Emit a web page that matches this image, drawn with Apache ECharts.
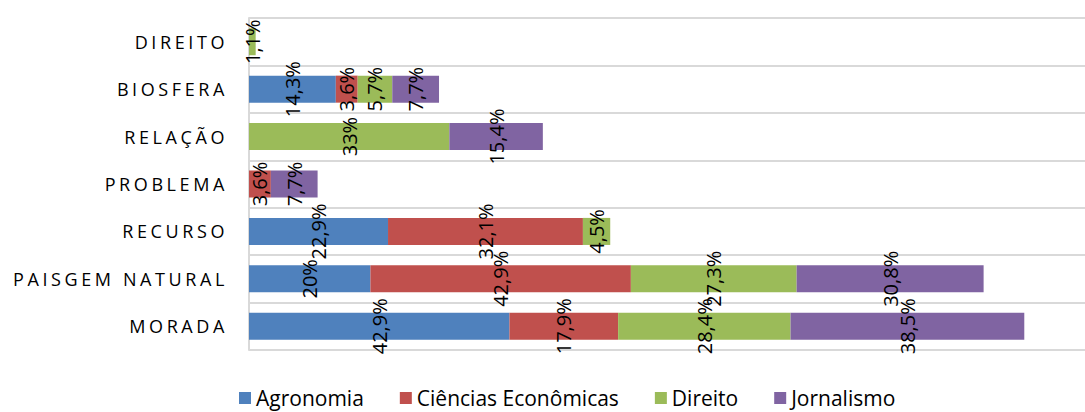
<!DOCTYPE html>
<html>
<head>
<meta charset="utf-8">
<script src="https://cdn.jsdelivr.net/npm/echarts@6/dist/echarts.min.js"></script>
<style>
html,body{margin:0;padding:0;background:#fff;}
#c{width:1085px;height:412px;}
</style>
</head>
<body>
<div id="c"></div>
<script>
var categories = ['MORADA', 'PAISGEM NATURAL', 'RECURSO', 'PROBLEMA', 'RELAÇÃO', 'BIOSFERA', 'DIREITO'];
var seriesNames = ['Agronomia', 'Ciências Econômicas', 'Direito', 'Jornalismo'];
var agronomia = [42.9, 20, 22.9, 0, 0, 14.3, 0];
var cienciasEconomicas = [17.9, 42.9, 32.1, 3.6, 0, 3.6, 0];
var direito = [28.4, 27.3, 4.5, 0, 33, 5.7, 1.1];
var jornalismo = [38.5, 30.8, 0, 7.7, 15.4, 7.7, 0];
var colors = ['#4F81BD', '#C0504D', '#9BBB59', '#8064A2'];

var dataSets = [agronomia, cienciasEconomicas, direito, jornalismo];

function fmt(p) {
  if (!p.value) return '';
  return String(p.value).replace('.', ',') + '%';
}

var series = seriesNames.map(function (name, i) {
  return {
    name: name,
    type: 'bar',
    stack: 'total',
    barCategoryGap: '43%',
    data: dataSets[i],
    itemStyle: { color: colors[i] },
    label: {
      show: true,
      position: 'inside',
      rotate: 90,
      align: 'center',
      verticalAlign: 'middle',
      formatter: fmt,
      color: '#000',
      fontFamily: 'Open Sans',
      fontSize: 20
    },
    emphasis: { disabled: true }
  };
});

var option = {
  animation: false,
  backgroundColor: '#fff',
  color: colors,
  grid: { left: 249, right: 0, top: 18, bottom: 62, containLabel: false },
  xAxis: {
    type: 'value',
    min: 0,
    max: 137.7,
    show: false,
    splitLine: { show: false }
  },
  yAxis: {
    type: 'category',
    data: categories,
    boundaryGap: true,
    axisLine: { show: true, lineStyle: { color: '#D9D9D9', width: 2 } },
    axisTick: { show: false },
    splitLine: { show: true, lineStyle: { color: '#D9D9D9', width: 2 } },
    axisLabel: {
      margin: 21,
      color: '#000',
      fontFamily: 'Open Sans',
      fontSize: 18
    }
  },
  legend: {
    data: seriesNames,
    top: 386,
    left: 239,
    icon: 'rect',
    itemWidth: 12,
    itemHeight: 12,
    itemGap: 36,
    padding: 0,
    textStyle: { color: '#000', fontFamily: 'Open Sans', fontSize: 21, lineHeight: 24 }
  },
  series: series
};

var dom = document.getElementById('c');
var chart = echarts.init(dom, null, { renderer: 'svg' });
chart.setOption(option);

function applySpacing() {
  var texts = dom.querySelectorAll('text');
  texts.forEach(function (t) {
    if (categories.indexOf(t.textContent) >= 0) {
      t.setAttribute('letter-spacing', '3.6px');
      t.style.letterSpacing = '3.6px';
    }
  });
}
chart.on('finished', applySpacing);
applySpacing();
setTimeout(applySpacing, 0);
setTimeout(applySpacing, 50);
setTimeout(applySpacing, 200);
</script>
</body>
</html>
